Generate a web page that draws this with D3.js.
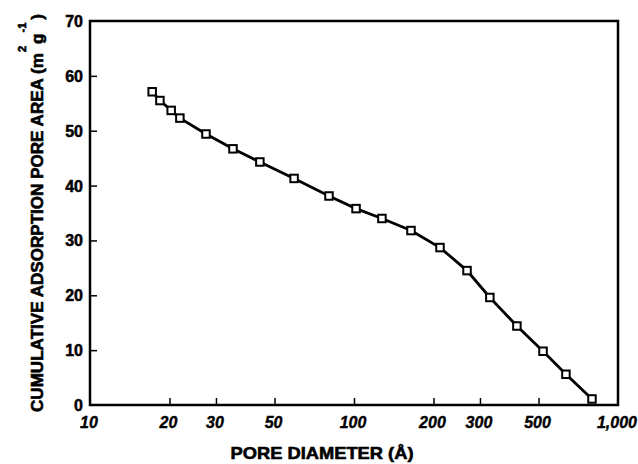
<!DOCTYPE html>
<html><head><meta charset="utf-8">
<script src="https://cdn.jsdelivr.net/npm/d3@7"></script>
<style>
body{margin:0;background:#fff;}
svg{display:block;}
text{font-family:"Liberation Sans",Arial,Helvetica,sans-serif;font-weight:bold;fill:#000;}
</style></head>
<body>
<svg id="chart" width="638" height="464"></svg>
<script>
const poreDiameter = [17.2, 18.4, 20.3, 21.9, 27.5, 34.8, 44.0, 59.3, 80.4, 101.8, 127.6, 164.4, 211.7, 268, 327, 414, 520, 635, 797];
const cumulativeArea = [57.1, 55.5, 53.7, 52.3, 49.4, 46.7, 44.3, 41.3, 38.1, 35.8, 34.0, 31.8, 28.7, 24.5, 19.6, 14.4, 9.8, 5.6, 1.1];
const xTicks = [10, 20, 30, 50, 100, 200, 300, 500, 1000];
const xTickLabels = ["10", "20", "30", "50", "100", "200", "300", "500", "1,000"];
const yTicks = [0, 10, 20, 30, 40, 50, 60, 70];

const svg = d3.select("#chart");
const L = 90, R = 618, T = 21, B = 405;
const x = d3.scaleLog().domain([10, 1000]).range([L, R]);
const y = d3.scaleLinear().domain([0, 70]).range([B, T]);

// frame
svg.append("rect").attr("x", L).attr("y", T).attr("width", R - L).attr("height", B - T)
  .attr("fill", "none").attr("stroke", "#000").attr("stroke-width", 2.5);

// y axis ticks (inward)
const yAxis = d3.axisRight(y).tickValues(yTicks).tickSize(7).tickFormat("");
const gy = svg.append("g").attr("transform", `translate(${L},0)`).call(yAxis);
gy.select(".domain").remove();
gy.selectAll("line").attr("stroke-width", 1.5).filter(d => d === 0 || d === 70).remove();
svg.append("g").selectAll("text").data(yTicks).join("text")
  .attr("x", 83).attr("y", d => y(d) + 6).attr("text-anchor", "end")
  .attr("font-size", 16).attr("stroke", "#000").attr("stroke-width", 0.5)
  .text(d => d);

// x axis ticks (inward)
const xAxis = d3.axisTop(x).tickValues(xTicks.filter(d => d !== 10 && d !== 1000)).tickSize(7).tickFormat("");
const gx = svg.append("g").attr("transform", `translate(0,${B})`).call(xAxis);
gx.select(".domain").remove();
gx.selectAll("line").attr("stroke-width", 1.5);
svg.append("g").selectAll("text").data(xTicks).join("text")
  .attr("x", (d, i) => i === xTicks.length - 1 ? x(d) + 19 : x(d) - 1)
  .attr("y", 428)
  .attr("text-anchor", (d, i) => i === xTicks.length - 1 ? "end" : "middle")
  .attr("font-size", 16).attr("font-style", "italic")
  .attr("stroke", "#000").attr("stroke-width", 0.4)
  .text((d, i) => xTickLabels[i]);

// line
const line = d3.line().x((d, i) => x(poreDiameter[i])).y(d => y(d));
svg.append("path").datum(cumulativeArea).attr("d", line)
  .attr("fill", "none").attr("stroke", "#000").attr("stroke-width", 2.8);

// markers
const s = 7.5;
svg.append("g").selectAll("rect").data(cumulativeArea).join("rect")
  .attr("x", (d, i) => x(poreDiameter[i]) - s / 2).attr("y", d => y(d) - s / 2)
  .attr("width", s).attr("height", s)
  .attr("fill", "#fff").attr("stroke", "#000").attr("stroke-width", 2);

// x label
svg.append("text").attr("x", 322).attr("y", 459)
  .attr("text-anchor", "middle")
  .attr("font-size", 17).attr("stroke", "#000").attr("stroke-width", 0.6)
  .attr("textLength", 183).attr("lengthAdjust", "spacingAndGlyphs")
  .text("PORE DIAMETER (Å)");

// y label
const yl = svg.append("text").attr("transform", "translate(43,412) rotate(-90)")
  .attr("text-anchor", "start").attr("font-size", 17)
  .attr("stroke", "#000").attr("stroke-width", 0.6)
  .attr("textLength", 398).attr("lengthAdjust", "spacingAndGlyphs");
yl.append("tspan").text("CUMULATIVE ADSORPTION PORE AREA (m");
yl.append("tspan").attr("dy", -17).attr("dx", 1).attr("font-size", 11).text("2");
yl.append("tspan").attr("dy", 17).attr("dx", 2).text("g");
yl.append("tspan").attr("dy", -17).attr("dx", 1).attr("font-size", 11).text("-1");
yl.append("tspan").attr("dy", 17).attr("dx", 3).text(")");
</script>
</body></html>
